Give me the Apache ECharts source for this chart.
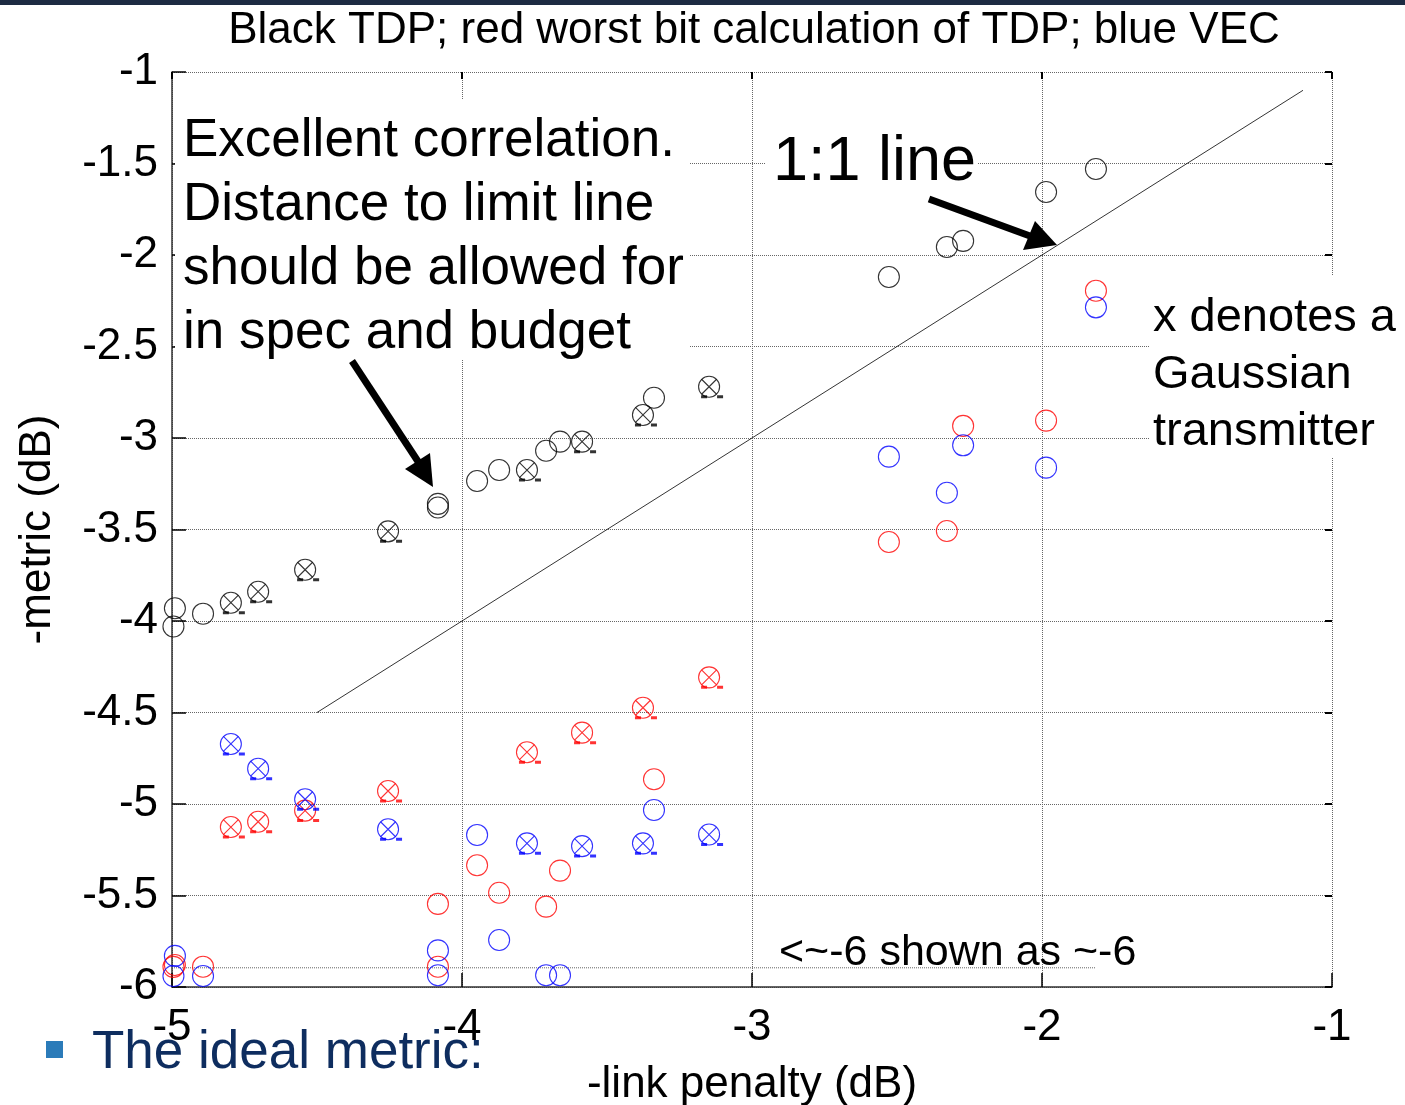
<!DOCTYPE html>
<html>
<head>
<meta charset="utf-8">
<title>TDP vs link penalty</title>
<script src="https://cdn.jsdelivr.net/npm/echarts/dist/echarts.min.js"></script>
<style>
  html, body { margin: 0; padding: 0; background: #fff; }
  #chart { width: 1405px; height: 1105px; }
</style>
</head>
<body>
<div id="chart"></div>
<script>
// -link penalty (dB), one entry per transmitter
const penalty = [-4.99, -4.995, -4.893, -4.797, -4.703, -4.541, -4.255, -4.083, -4.083, -3.948, -3.872, -3.776,
  -3.71, -3.662, -3.586, -3.376, -3.338, -3.148, -2.528, -2.328, -2.272, -1.986, -1.814]
// 1 = Gaussian transmitter (x through the circle)
const gaussian = [0, 0, 0, 1, 1, 1, 1, 0, 0, 0, 0, 1, 0, 0, 1, 1, 0, 1, 0, 0, 0, 0, 0]
// black: TDP
const tdp = [-3.93, -4.03, -3.96, -3.90, -3.84, -3.72, -3.51, -3.36, -3.38, -3.235, -3.175, -3.175,
  -3.07, -3.02, -3.02, -2.874, -2.78, -2.72, -2.12, -1.956, -1.923, -1.656, -1.53]
// red: worst bit calculation of TDP
const worstBit = [-5.88, -5.89, -5.889, -5.126, -5.097, -5.036, -4.929, -5.546, -5.889, -5.335, -5.485, -4.717,
  -5.561, -5.364, -4.61, -4.474, -4.865, -4.308, -3.568, -3.508, -2.934, -2.905, -2.195]
// blue: VEC
const vec = [-5.83, -5.94, -5.94, -4.672, -4.807, -4.974, -5.138, -5.80, -5.936, -5.169, -5.743, -5.215,
  -5.936, -5.936, -5.23, -5.215, -5.033, -5.167, -3.102, -3.299, -3.04, -3.162, -2.286]

const xRange = [-5, -1]
const yRange = [-6, -1]
const identityLine = [-4.5, -1.1]      // 1:1 line, from x=y=-4.5 to -1.1
const floorLineX = [-5, -1.815]        // "<~-6 shown as ~-6" level
const floorLevel = -5.895

const titleText = 'Black TDP; red worst bit calculation of TDP; blue VEC'
const noteLeft = 'Excellent correlation.\nDistance to limit line\nshould be allowed for\nin spec and budget'
const noteLine = '1:1 line'
const noteGauss = 'x denotes a\nGaussian\ntransmitter'
const noteFloor = '<~-6 shown as ~-6'
const slideBullet = 'The ideal metric:'

const FONT = "'Liberation Sans', Arial, sans-serif"

const pts = (ys) => penalty.map((x, i) => [x, ys[i]])
const gaussPts = (ys) => pts(ys).filter((p, i) => gaussian[i])

const circleSeries = (name, ys, color) => ({
  name, type: 'scatter', data: pts(ys), symbol: 'circle', symbolSize: 21, silent: true, z: 3,
  itemStyle: { color: 'rgba(0,0,0,0)', borderColor: color, borderWidth: 1.1 }
})
const crossSeries = (ys, color) => ({
  type: 'scatter', data: gaussPts(ys), symbol: 'path://M0,0L10,10M0,10L10,0', symbolSize: 15, silent: true, z: 4,
  itemStyle: { color: 'none', borderColor: color, borderWidth: 1.1 }
})
// little bars under each Gaussian marker, as in the original export
const dashSeries = (ys, color) => ({
  type: 'scatter', data: gaussPts(ys), symbol: 'path://M0,0H6V3H0ZM16,0H22V3H16Z',
  symbolSize: [22, 3], symbolOffset: [3, 10], silent: true, z: 4,
  itemStyle: { color: color, borderWidth: 0 }
})

const chart = echarts.init(document.getElementById('chart'))

const gridLine = { show: true, lineStyle: { color: '#666', type: 'dotted', width: 1 } }

const option = {
  animation: false,
  backgroundColor: '#fff',
  grid: { left: 172, right: 73, top: 72, bottom: 118, containLabel: false, outerBoundsMode: 'none' },
  xAxis: [
    {
      type: 'value', min: xRange[0], max: xRange[1], interval: 1, position: 'bottom',
      name: '-link penalty (dB)', nameLocation: 'middle', nameGap: 76,
      nameTextStyle: { fontSize: 44, color: '#000', fontFamily: FONT },
      axisLine: { show: true, onZero: false, lineStyle: { color: '#333', width: 1.5 } },
      axisTick: { inside: true, length: 14, lineStyle: { color: '#000', width: 1.5 } },
      axisLabel: { fontSize: 44, color: '#000', margin: 19, fontFamily: FONT },
      splitLine: gridLine
    },
    {
      type: 'value', min: xRange[0], max: xRange[1], interval: 1, position: 'top',
      axisLine: { show: false }, axisLabel: { show: false }, splitLine: { show: false },
      axisTick: { inside: true, length: 7, lineStyle: { color: '#000', width: 2 } }
    }
  ],
  yAxis: [
    {
      type: 'value', min: yRange[0], max: yRange[1], interval: 0.5, position: 'left',
      name: '-metric (dB)', nameLocation: 'middle', nameGap: 112, nameRotate: 90,
      nameTextStyle: { fontSize: 44, color: '#000', fontFamily: FONT },
      axisLine: { show: true, onZero: false, lineStyle: { color: '#333', width: 1.5 } },
      axisTick: { inside: true, length: 14, lineStyle: { color: '#000', width: 1.5 } },
      axisLabel: { fontSize: 44, color: '#000', margin: 14, fontFamily: FONT },
      splitLine: gridLine
    },
    {
      type: 'value', min: yRange[0], max: yRange[1], interval: 0.5, position: 'right',
      axisLine: { show: false }, axisLabel: { show: false }, splitLine: { show: false },
      axisTick: { inside: true, length: 7, lineStyle: { color: '#000', width: 2 } }
    }
  ],
  series: [
    {
      type: 'line', data: identityLine.map(v => [v, v]), symbol: 'none', silent: true, z: 2,
      lineStyle: { color: '#000', width: 0.8 }
    },
    {
      type: 'line', data: floorLineX.map(v => [v, floorLevel]), symbol: 'none', silent: true, z: 1,
      lineStyle: { color: '#666', width: 1, type: 'dotted' }
    },
    circleSeries('TDP', tdp, '#000000'),
    crossSeries(tdp, '#000000'),
    dashSeries(tdp, '#000000'),
    circleSeries('worst bit', worstBit, '#ff0000'),
    crossSeries(worstBit, '#ff0000'),
    dashSeries(worstBit, '#ff0000'),
    circleSeries('VEC', vec, '#0000ff'),
    crossSeries(vec, '#0000ff'),
    dashSeries(vec, '#0000ff')
  ],
  graphic: [
    // slide header strip
    { type: 'rect', z: 100, shape: { x: 0, y: 0, width: 1405, height: 5 }, style: { fill: '#1d2b42' } },
    {
      type: 'text', z: 100, x: 754, y: 31,
      style: { text: titleText, fontSize: 44, fontFamily: FONT, fill: '#000', align: 'center', verticalAlign: 'middle' }
    },
    // text boxes (white background hides the grid)
    { type: 'rect', z: 100, shape: { x: 175, y: 100, width: 515, height: 260 }, style: { fill: '#fff' } },
    {
      type: 'text', z: 101, x: 183, y: 109,
      style: { text: noteLeft, fontSize: 53, lineHeight: 64, fontFamily: FONT, fill: '#000', align: 'left', verticalAlign: 'top' }
    },
    { type: 'rect', z: 100, shape: { x: 765, y: 128, width: 213, height: 67 }, style: { fill: '#fff' } },
    {
      type: 'text', z: 101, x: 773, y: 163,
      style: { text: noteLine, fontSize: 63, fontFamily: FONT, fill: '#000', align: 'left', verticalAlign: 'middle' }
    },
    { type: 'rect', z: 100, shape: { x: 1150, y: 276, width: 255, height: 182 }, style: { fill: '#fff' } },
    {
      type: 'text', z: 101, x: 1153, y: 290,
      style: { text: noteGauss, fontSize: 47, lineHeight: 57, fontFamily: FONT, fill: '#000', align: 'left', verticalAlign: 'top' }
    },
    {
      type: 'text', z: 101, x: 779, y: 953,
      style: { text: noteFloor, fontSize: 43, fontFamily: FONT, fill: '#000', align: 'left', verticalAlign: 'middle' }
    },
    // arrows
    { type: 'polyline', z: 102, shape: { points: [[352, 361], [419, 463]] }, style: { stroke: '#000', lineWidth: 7 } },
    { type: 'polygon', z: 102, shape: { points: [[405, 469], [430, 453], [433, 487]] }, style: { fill: '#000' } },
    { type: 'polyline', z: 102, shape: { points: [[929, 199], [1030, 236]] }, style: { stroke: '#000', lineWidth: 7 } },
    { type: 'polygon', z: 102, shape: { points: [[1023, 250], [1035, 221], [1057, 245]] }, style: { fill: '#000' } },
    // slide bullet overlapping the chart
    { type: 'rect', z: 103, shape: { x: 46, y: 1041, width: 17, height: 17 }, style: { fill: '#2b7bb9' } },
    {
      type: 'text', z: 103, x: 92, y: 1053,
      style: { text: slideBullet, fontSize: 53, fontFamily: FONT, fill: '#0e2d5f', align: 'left', verticalAlign: 'middle' }
    }
  ]
}

chart.setOption(option)
</script>
</body>
</html>
